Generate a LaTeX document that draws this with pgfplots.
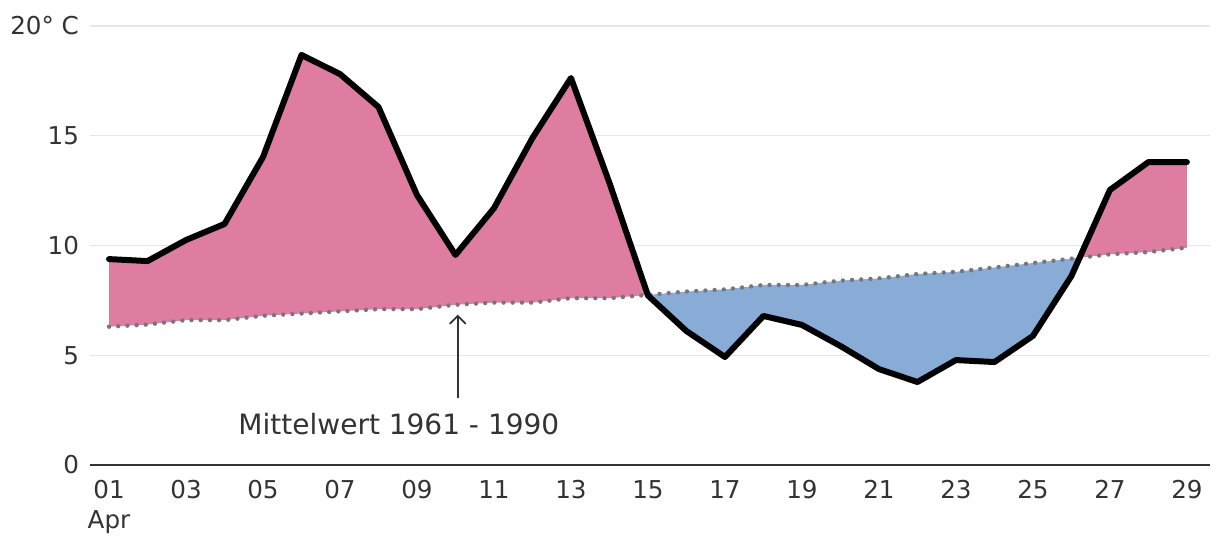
\documentclass[border=0pt]{standalone}
\usepackage{pgfplots}
\pgfplotsset{compat=1.18}
\usepgfplotslibrary{fillbetween}
\usetikzlibrary{arrows.meta}
\usepackage{fontspec}
\setmainfont{DejaVu Sans}
\definecolor{pinkc}{RGB}{222,124,161}
\definecolor{bluec}{RGB}{136,172,214}
\definecolor{gridc}{RGB}{230,230,230}
\definecolor{txt}{RGB}{51,51,51}
\definecolor{meanc}{RGB}{118,118,124}
\pgfplotstableread{
day temp
1 9.38
2 9.29
3 10.25
4 10.98
5 14.03
6 18.68
7 17.81
8 16.31
9 12.30
10 9.57
11 11.70
12 14.90
13 17.63
14 12.85
15 7.72
16 6.10
17 4.92
18 6.79
19 6.38
20 5.42
21 4.37
22 3.78
23 4.78
24 4.69
25 5.88
26 8.61
27 12.53
28 13.80
29 13.80
}\temps
\pgfplotstableread{
day mean
1 6.3
2 6.4
3 6.6
4 6.6
5 6.8
6 6.9
7 7.0
8 7.1
9 7.1
10 7.3
11 7.4
12 7.4
13 7.6
14 7.6
15 7.75
16 7.9
17 8.0
18 8.2
19 8.2
20 8.4
21 8.5
22 8.7
23 8.8
24 9.0
25 9.2
26 9.4
27 9.6
28 9.7
29 9.9
}\means
\begin{document}
\begin{tikzpicture}
\begin{axis}[
  scale only axis,
  width=560pt, height=219.5pt,
  xmin=0.506, xmax=29.6,
  ymin=0, ymax=20,
  axis line style={draw=none},
  xtick pos=bottom, ytick pos=left,
  ytick={0,5,10,15,20},
  yticklabels={0,5,10,15,{20° C}},
  xtick={1,3,...,29},
  xticklabels={{\strut 01\\Apr},03,05,07,09,11,13,15,17,19,21,23,25,27,29},
  major tick length=0pt,
  ymajorgrids,
  grid style={gridc, line width=0.6pt},
  tick label style={font=\fontsize{12.3}{15}\selectfont, text=txt},
  x tick label style={align=center, anchor=north, yshift=-2.5pt},
  typeset ticklabels with strut,
  y tick label style={anchor=east, xshift=-2pt, yshift=-1.5pt},
  /pgf/number format/assume math mode=true,
  clip=false,
]
\addplot[draw=none, name path=T] table[x=day,y=temp]{\temps};
\addplot[draw=none, name path=M] table[x=day,y=mean]{\means};
\addplot[pinkc] fill between[of=T and M, soft clip={domain=0:15}];
\addplot[bluec] fill between[of=T and M, soft clip={domain=15:26.21}];
\addplot[pinkc] fill between[of=T and M, soft clip={domain=26.21:30}];
\draw[txt, line width=1pt] (axis cs:0.506,0) -- (axis cs:29.6,0);
\addplot[meanc, line width=2.2pt, line cap=round, dash pattern=on 0pt off 4.6pt] table[x=day,y=mean]{\means};
\addplot[black, line width=3pt, line join=round, line cap=round] table[x=day,y=temp]{\temps};
\draw[txt, line width=0.9pt, -{Straight Barb[length=4pt,width=8pt]}] (axis cs:10.06,3.05) -- (axis cs:10.06,6.85);
\node[text=txt, font=\fontsize{14}{16}\selectfont] at (axis cs:8.53,1.87) {Mittelwert 1961 - 1990};
\coordinate (sw) at (rel axis cs:0,0);
\coordinate (ne) at (rel axis cs:1,1);
\end{axis}
\pgfresetboundingbox
\path ([xshift=-45pt,yshift=-41.5pt]sw) rectangle ([xshift=5pt,yshift=13pt]ne);
\end{tikzpicture}
\end{document}
